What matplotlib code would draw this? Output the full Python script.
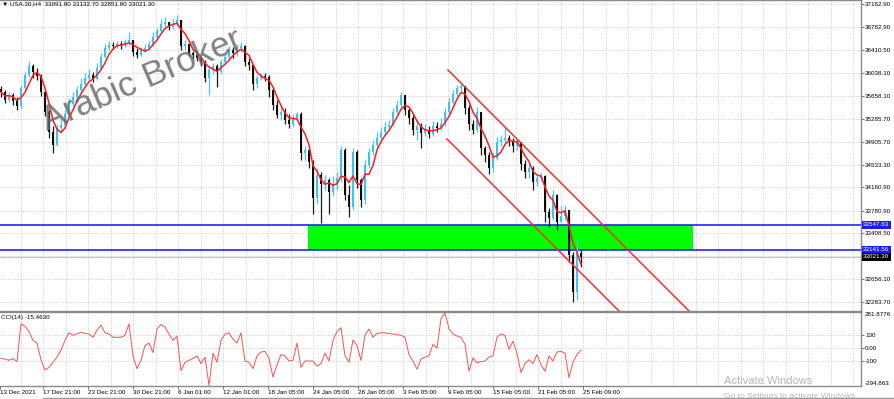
import numpy as np
import pandas as pd
import matplotlib
matplotlib.use("Agg")
import matplotlib.pyplot as plt
from matplotlib.patches import Rectangle
from matplotlib.lines import Line2D
from matplotlib.transforms import blended_transform_factory as btf

plt.rcParams['font.family'] = ['Liberation Sans', 'DejaVu Sans']

# ---------------- data ----------------
title_text = "\u25BC USA.30,H4  33091.80 33132.70 32851.80 33021.30"
first_open = 35770.0
closes = [35722, 35591, 35673, 35575, 35493, 35787, 36000, 36148, 36049, 35984,
          35722, 35395, 35067, 34854, 35133, 35182, 35362, 35525, 35640, 35755,
          35853, 35951, 36000, 35935, 36115, 36295, 36442, 36491, 36475, 36508,
          36491, 36540, 36573, 36377, 36328, 36410, 36442, 36508, 36622, 36721,
          36835, 36868, 36786, 36835, 36901, 36475, 36508, 36360, 36328, 36279,
          36213, 35951, 36082, 36148, 36049, 36213, 36295, 36410, 36360, 36442,
          36475, 36213, 36164, 35853, 35951, 35984, 35968, 35755, 35509, 35345,
          35395, 35264, 35198, 35296, 35362, 34723, 34772, 34576, 33987, 34363,
          34216, 34281, 34085, 34200, 34314, 34772, 34036, 33839, 34740, 34281,
          33954, 34527, 34740, 34854, 34969, 35067, 35149, 35182, 35395, 35509,
          35673, 35427, 35296, 35100, 35165, 35051, 35100, 35034, 35165, 35133,
          35198, 35395, 35558, 35689, 35787, 35820, 35460, 35198, 35100, 35395,
          34805, 34691, 34478, 34641, 34903, 34936, 34969, 34920, 34838, 34903,
          34543, 34412, 34478, 34249, 34314, 34347, 33758, 33659, 34036, 33594,
          33692, 33790, 33054, 32448, 33091.8, 33021.3]
highs = [35820, 35755, 35722, 35706, 35640, 35836, 36049, 36229, 36180, 36115,
         36017, 35755, 35427, 35165, 35198, 35296, 35427, 35624, 35722, 35820,
         35951, 36033, 36098, 36049, 36197, 36360, 36508, 36557, 36540, 36557,
         36557, 36590, 36704, 36573, 36442, 36459, 36508, 36557, 36704, 36770,
         36917, 36950, 36868, 36933, 36982, 36901, 36573, 36508, 36393, 36360,
         36295, 36246, 36148, 36197, 36180, 36262, 36360, 36475, 36459, 36508,
         36540, 36491, 36279, 36180, 36000, 36033, 36033, 36000, 35787, 35591,
         35493, 35460, 35362, 35362, 35395, 35395, 34838, 34772, 34609, 34478,
         34412, 34363, 34314, 34347, 34412, 34838, 34805, 34200, 34805, 34772,
         34314, 34609, 34805, 34936, 35067, 35149, 35231, 35264, 35460, 35591,
         35722, 35673, 35460, 35345, 35264, 35214, 35198, 35165, 35247, 35231,
         35296, 35460, 35624, 35755, 35836, 35869, 35820, 35509, 35264, 35476,
         35395, 34838, 34740, 34740, 34985, 35018, 35149, 35018, 34969, 34953,
         34903, 34609, 34560, 34511, 34380, 34412, 34363, 33823, 34118, 34052,
         33856, 33872, 33790, 33103, 33299, 33132.7]
lows = [35640, 35542, 35558, 35509, 35427, 35460, 35755, 35968, 35951, 35918,
        35656, 35329, 34969, 34723, 34838, 35067, 35133, 35329, 35493, 35607,
        35722, 35820, 35918, 35886, 35918, 36098, 36279, 36410, 36426, 36442,
        36426, 36459, 36491, 36311, 36279, 36311, 36377, 36410, 36475, 36573,
        36704, 36770, 36737, 36753, 36802, 36410, 36410, 36311, 36262, 36229,
        36148, 35886, 35673, 36017, 35804, 36017, 36180, 36246, 36279, 36311,
        36377, 36148, 36082, 35755, 35787, 35918, 35902, 35640, 35427, 35296,
        35264, 35198, 35133, 35149, 35264, 34609, 34609, 34478, 33725, 33889,
        33578, 34118, 33725, 34019, 34118, 34249, 33954, 33676, 33790, 34150,
        33839, 33889, 34478, 34691, 34805, 34936, 35034, 35083, 35165, 35362,
        35460, 35345, 35198, 35018, 34936, 34805, 35002, 34969, 35002, 35067,
        35100, 35165, 35362, 35525, 35656, 35722, 35362, 35100, 35034, 35067,
        34691, 34576, 34380, 34412, 34609, 34838, 34887, 34838, 34740, 34772,
        34445, 34314, 34314, 34118, 34183, 34281, 33594, 33512, 33627, 33463,
        33594, 33627, 32939, 32284, 32317, 32851.8]
cci_values = [-80, -85, -95, -80, -105, 190, 170, 130, 60, 40,
              -90, -170, -150, -110, -70, -15, 60, 120, 100, 110,
              125, 115, 110, 85, 140, 180, 120, 110, 85, 85,
              85, 100, 190, -60, -160, -95, 20, 40, -35, 150,
              185, 165, 110, 60, 95, -175, -110, -95, -80, -60,
              -120, -70, -290, -40, -110, 60, 110, 120, 70, 40,
              120, -100, -110, -160, -60, -30, -25, -80, -225, -130,
              -50, -60, -100, -95, 40, -150, -100, -100, -100, -140,
              -120, -40, -100, 60, 130, 160, -60, -110, 65, 20,
              -95, 100, 150, 85, 115, 120, 120, 115, 110, 105,
              100, 85, -50, -100, -165, -85, -70, -60, 30, 0,
              230, 275, 150, 110, 95, 85, 30, -180, -75, -115,
              -105, -100, -70, -60, 85, 110, 100, -10, 55, -40,
              -190, -120, -90, -120, -50, -130, -180, -60, -100, -30,
              -25, -40, -230, -110, -50, -15.463]
ma_period = 4

price_ticks = [37162.90, 36782.90, 36410.50, 36038.10, 35658.10, 35285.70,
               34905.70, 34533.30, 34160.90, 33780.90, 33408.50, 33036.10,
               32656.10, 32283.70]
hidden_tick = 33036.10
zone_top = 33547.63
zone_bottom = 33141.56
bid_price = 33021.30
channel_upper_bars = [111.75, 171.75]
channel_upper_prices = [36082, 32153]
channel_lower_bars = [111.5, 154.25]
channel_lower_prices = [34953, 32153]
zone_bars = [76.75, 173.0]
time_labels = ["13 Dec 2021", "17 Dec 21:00", "23 Dec 21:00", "30 Dec 21:00",
               "6 Jan 01:00", "12 Jan 01:00", "18 Jan 05:00", "24 Jan 05:00",
               "28 Jan 05:00", "3 Feb 05:00", "9 Feb 05:00", "15 Feb 05:00",
               "21 Feb 05:00", "25 Feb 09:00"]
cci_label = "CCI(14) -15.4630"
cci_max, cci_min = 281.8776, -294.863

# ---------------- layout ----------------
W, H = 895, 399
PXB = 4.0  # pixels per bar
FS = 4.5
def bx(px):
    return (px - 1) / PXB

fig = plt.figure(figsize=(W / 100, H / 100), dpi=100)
fig.patch.set_facecolor('white')
ax = fig.add_axes([0, 1 - 311 / H, 861 / W, 311 / H])
ax2 = fig.add_axes([0, 1 - 386 / H, 861 / W, (386 - 312) / H])

n = len(closes)
idx = np.arange(n)
c = np.array(closes, float)
o = np.r_[first_open, c[:-1]]
h = np.maximum(np.array(highs, float), np.maximum(o, c))
l = np.minimum(np.array(lows, float), np.minimum(o, c))

for a in (ax, ax2):
    a.set_xlim(bx(0), bx(861))
    a.set_facecolor('white')
    for g in np.arange(20.8, 861, 22.5):
        a.axvline(bx(g), color='#cfcfcf', lw=0.6, ls=(0, (1.5, 1.5)), zorder=0)

ax.set_ylim(32136.3, 37228.4)
for p in price_ticks:
    ax.axhline(p, color='#cfcfcf', lw=0.6, ls=(0, (1.5, 1.5)), zorder=0)

# zone + lines
ax.add_patch(Rectangle((zone_bars[0], zone_bottom), zone_bars[1] - zone_bars[0],
                       zone_top - zone_bottom, facecolor='#00ff00', edgecolor='none', zorder=1))
ax.axhline(bid_price, color='#c4c4c4', lw=0.8, zorder=1.5)
for zv in (zone_top, zone_bottom):
    ax.axhline(zv, color='#2323ff', lw=1.2, zorder=2)

# candles
bull = c >= o
wick_cols = np.where(bull, '#4cc6f2', '#1a1a1a')
ax.vlines(idx, l, h, colors=wick_cols, lw=0.9, zorder=3)
body_h = np.where(np.abs(c - o) < 8, 8, c - o)
ax.bar(idx, body_h, bottom=o, width=0.72, color=np.where(bull, '#3cc3f3', '#0d0d0d'),
       edgecolor='none', zorder=3.2)

ma = pd.Series(c).rolling(ma_period, min_periods=1).mean()
ax.plot(idx, ma, color='#ff1c1c', lw=1.1, zorder=4)

for bars, prices in ((channel_upper_bars, channel_upper_prices),
                     (channel_lower_bars, channel_lower_prices)):
    k = (prices[1] - prices[0]) / (bars[1] - bars[0])
    xe = bars[0] + 150
    ax.plot([bars[0], xe], [prices[0], prices[0] + k * 150], color='#ff2a2a', lw=1.1, zorder=4)

# price axis
ax.yaxis.tick_right()
ax.set_yticks(price_ticks)
ax.set_yticklabels(['' if p == hidden_tick else f'{p:.2f}' for p in price_ticks])
ax.tick_params(axis='y', length=2.2, width=0.6, color='#555555', pad=0.8, labelsize=FS)
ax.set_xticks([])
ax.spines['left'].set_visible(False)
for sp in ('top', 'right', 'bottom'):
    ax.spines[sp].set_color('#8a8a8a')
    ax.spines[sp].set_linewidth(1.0)

tr = btf(ax.transAxes, ax.transData)
for val, bg in ((zone_top, '#1c1cff'), (zone_bottom, '#1c1cff'), (bid_price, '#000000')):
    ax.text(1.0025, val, f'{val:.2f}', transform=tr, ha='left', va='center', color='white',
            fontsize=FS, bbox=dict(boxstyle='square,pad=0.25', fc=bg, ec='none'), zorder=6,
            clip_on=False)

# CCI panel
ax2.set_ylim(cci_min, cci_max)
for lv in (100, 0, -100):
    ax2.axhline(lv, color='#cfcfcf', lw=0.6, ls=(0, (1.5, 1.5)), zorder=0)
ax2.plot(idx, cci_values, color='#ff5050', lw=0.7, zorder=3)
ax2.yaxis.tick_right()
ax2.set_yticks([100, 0, -100])
ax2.set_yticklabels(['100', '0.00', '-100'])
ax2.tick_params(axis='y', length=2.2, width=0.6, color='#555555', pad=0.8, labelsize=FS)
tr2 = btf(ax2.transAxes, ax2.transData)
ax2.text(1.004, cci_max, f'{cci_max:.4f}', transform=tr2, ha='left', va='top', fontsize=FS)
ax2.text(1.004, cci_min, f'{cci_min:.3f}', transform=tr2, ha='left', va='bottom', fontsize=FS)
ax2.spines['left'].set_visible(False)
for sp in ('top', 'right', 'bottom'):
    ax2.spines[sp].set_color('#8a8a8a')
    ax2.spines[sp].set_linewidth(1.0)

lab_px = [0.0] + [43.3 + 45 * k for k in range(len(time_labels) - 1)]
ax2.set_xticks([bx(p) for p in lab_px])
ax2.set_xticklabels(time_labels)
for t in ax2.get_xticklabels():
    t.set_ha('left')
ax2.tick_params(axis='x', length=2.2, width=0.6, color='#555555', pad=1.0, labelsize=FS)

# texts
fig.text(2 / W, 1 - 4 / H, title_text, ha='left', va='center', fontsize=FS)
fig.text(1 / W, 1 - 317 / H, cci_label, ha='left', va='center', fontsize=FS)
fig.text(47 / W, 1 - 131 / H, 'Arabic Broker', rotation=23, rotation_mode='anchor',
         ha='left', va='baseline', fontsize=25.5, color='#6a6a6a', alpha=0.85, zorder=10)
fig.text(724 / W, 1 - 381 / H, 'Activate Windows', ha='left', va='center', fontsize=8,
         color='#b8b8b8')
fig.text(724 / W, 1 - 396 / H, 'Go to Settings to activate Windows.', ha='left', va='center',
         fontsize=6, color='#b8b8b8')
fig.add_artist(Line2D([43 / W, 1], [1 - 397.5 / H] * 2, color='#9a9a9a', lw=1.0))

fig.savefig('out.png', dpi=100, facecolor='white')
